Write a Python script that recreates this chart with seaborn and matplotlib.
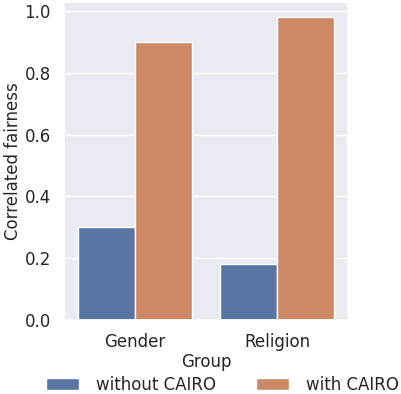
import matplotlib

matplotlib.use("Agg")
import matplotlib.pyplot as plt
import pandas as pd
import seaborn as sns

groups = ["Gender", "Religion"]
methods = ["without CAIRO", "with CAIRO"]
without_cairo = [0.30, 0.18]
with_cairo = [0.90, 0.98]

df = pd.DataFrame({
    "Group": groups * 2,
    "Method": [methods[0]] * 2 + [methods[1]] * 2,
    "Correlated fairness": without_cairo + with_cairo,
})

sns.set_theme(style="darkgrid")
plt.rcParams["font.family"] = ["DejaVu Sans"]

fig = plt.figure(figsize=(4.02, 3.94), dpi=100)
ax = fig.add_axes([64 / 402, 74 / 394, 284 / 402, 318 / 394])
sns.barplot(data=df, x="Group", y="Correlated fairness", hue="Method", ax=ax)

ax.tick_params(labelsize=12)
ax.set_xlabel("Group", fontsize=12, labelpad=1)
ax.set_ylabel("Correlated fairness", fontsize=12, labelpad=2)

handles, labels = ax.get_legend_handles_labels()
ax.get_legend().remove()
fig.legend(handles, labels, loc="center", bbox_to_anchor=(0.553, 9 / 394), ncol=2,
           frameon=False, fontsize=12, handlelength=2.0, handletextpad=1.0,
           columnspacing=2.4, borderpad=0.2)

plt.savefig("out.png", dpi=100)
plt.close()
